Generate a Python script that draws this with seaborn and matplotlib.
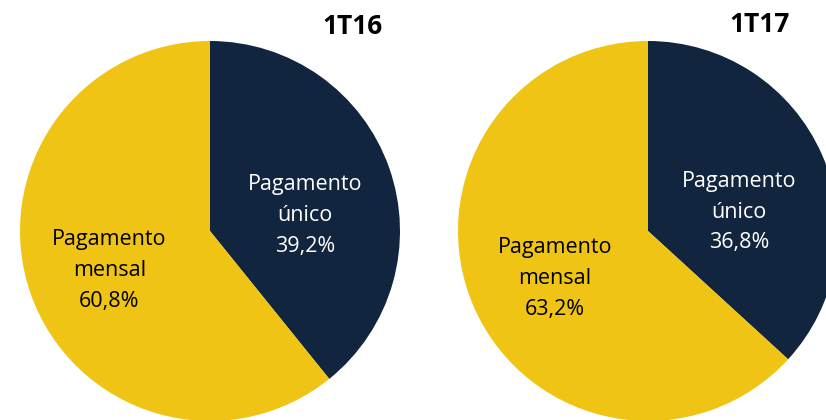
import matplotlib
matplotlib.use("Agg")
import matplotlib.pyplot as plt
import seaborn as sns

# data
periods = ["1T16", "1T17"]
categories = ["Pagamento\núnico", "Pagamento\nmensal"]
shares = {
    "1T16": [39.2, 60.8],
    "1T17": [36.8, 63.2],
}

navy = "#12253F"
yellow = "#EFC414"

sns.set_theme(style="white")
plt.rcParams["font.family"] = ["Open Sans", "DejaVu Sans"]

fig = plt.figure(figsize=(8.26, 4.2), dpi=100)

# axes boxes in figure fractions (left, bottom, width, height)
boxes = {
    "1T16": [(210 - 190) / 826, (420 - 421) / 420, 380 / 826, 380 / 420],
    "1T17": [(648 - 190) / 826, (420 - 421) / 420, 380 / 826, 380 / 420],
}
# label centres in pie units
label_pos = {
    "1T16": [(0.50, 0.08), (-0.53, -0.21)],
    "1T17": [(0.48, 0.10), (-0.49, -0.25)],
}
title_pos = {"1T16": (353, 27), "1T17": (760, 25)}

for p in periods:
    ax = fig.add_axes(boxes[p])
    vals = shares[p]
    ax.pie(vals, colors=[navy, yellow], startangle=90, counterclock=False,
           radius=1, wedgeprops=dict(linewidth=0))
    ax.set_xlim(-1, 1)
    ax.set_ylim(-1, 1)
    ax.set_aspect("equal")
    ax.axis("off")
    for (x, y), cat, v, col in zip(label_pos[p], categories, vals, ["white", "black"]):
        txt = f"{cat}\n{v:.1f}%".replace(".", ",")
        ax.text(x, y, txt, ha="center", va="center", color=col,
                fontsize=15.5, linespacing=1.62)
    tx, ty = title_pos[p]
    fig.text(tx / 826, 1 - ty / 420, p, ha="center", va="center",
             fontsize=19, fontweight="bold", color="black")

fig.savefig("out.png", dpi=100)
